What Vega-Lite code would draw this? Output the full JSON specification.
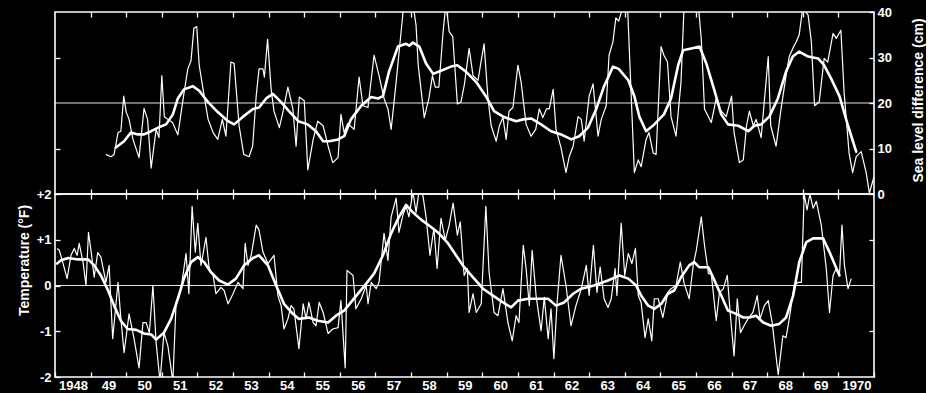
{
  "$schema": "https://vega.github.io/schema/vega-lite/v6.json",
  "background": "black",
  "padding": {"left": 16, "top": 5, "right": 0, "bottom": 0},
  "spacing": 0,
  "bounds": "flush",
  "config": {
    "view": {"stroke": "white", "strokeWidth": 1.6},
    "axis": {
      "labelColor": "white", "tickColor": "white", "titleColor": "white",
      "labelFont": "Liberation Sans", "titleFont": "Liberation Sans",
      "labelFontSize": 13, "labelFontWeight": "bold",
      "titleFontSize": 14, "titleFontWeight": "bold",
      "grid": false, "domain": false, "tickSize": 5, "offset": -5, "tickWidth": 1.3,
      "labelPadding": 3
    }
  },
  "datasets": {
    "top_raw": [
      {"year":1949.43,"value":8.7},{"year":1949.57,"value":8.2},{"year":1949.66,"value":8.7},{"year":1949.77,"value":13.5},{"year":1949.85,"value":13.8},{"year":1949.93,"value":21.5},{"year":1950.0,"value":18},{"year":1950.08,"value":16.4},{"year":1950.19,"value":12},{"year":1950.36,"value":8},{"year":1950.5,"value":18.8},{"year":1950.6,"value":16.4},{"year":1950.7,"value":5.7},{"year":1950.84,"value":14.2},{"year":1950.92,"value":12.4},{"year":1951.0,"value":26},{"year":1951.07,"value":17},{"year":1951.17,"value":16.4},{"year":1951.3,"value":15.7},{"year":1951.45,"value":13},{"year":1951.6,"value":21},{"year":1951.73,"value":27.5},{"year":1951.82,"value":29.3},{"year":1951.9,"value":36.4},{"year":1951.98,"value":36.8},{"year":1952.05,"value":28.3},{"year":1952.2,"value":21},{"year":1952.3,"value":16.4},{"year":1952.44,"value":13.5},{"year":1952.57,"value":12},{"year":1952.7,"value":16.4},{"year":1952.8,"value":12.7},{"year":1952.94,"value":29},{"year":1953.03,"value":28.7},{"year":1953.17,"value":15},{"year":1953.3,"value":8.7},{"year":1953.45,"value":8.2},{"year":1953.55,"value":10.5},{"year":1953.65,"value":21.5},{"year":1953.73,"value":27.5},{"year":1953.84,"value":27.5},{"year":1953.88,"value":25.7},{"year":1953.97,"value":34},{"year":1954.07,"value":23},{"year":1954.15,"value":18.2},{"year":1954.3,"value":14.6},{"year":1954.4,"value":18},{"year":1954.54,"value":23.5},{"year":1954.68,"value":18.7},{"year":1954.77,"value":10.5},{"year":1954.86,"value":21.3},{"year":1955.0,"value":20.5},{"year":1955.1,"value":5.3},{"year":1955.25,"value":12},{"year":1955.38,"value":16},{"year":1955.53,"value":15},{"year":1955.67,"value":10.5},{"year":1955.8,"value":6.9},{"year":1955.95,"value":8},{"year":1956.03,"value":17.5},{"year":1956.12,"value":13.5},{"year":1956.22,"value":15.5},{"year":1956.4,"value":14.2},{"year":1956.54,"value":25.7},{"year":1956.65,"value":19.4},{"year":1956.79,"value":19},{"year":1956.96,"value":30.5},{"year":1957.1,"value":26},{"year":1957.24,"value":21},{"year":1957.35,"value":18.7},{"year":1957.44,"value":14.2},{"year":1957.58,"value":24.6},{"year":1957.72,"value":35.7},{"year":1957.8,"value":42},{"year":1958.05,"value":42},{"year":1958.14,"value":37},{"year":1958.2,"value":28.3},{"year":1958.37,"value":16.8},{"year":1958.5,"value":21},{"year":1958.6,"value":26},{"year":1958.68,"value":23.5},{"year":1958.78,"value":23.5},{"year":1958.9,"value":35.7},{"year":1958.98,"value":42},{"year":1959.07,"value":35.7},{"year":1959.17,"value":34.6},{"year":1959.3,"value":19.8},{"year":1959.4,"value":20.2},{"year":1959.5,"value":24.2},{"year":1959.63,"value":32},{"year":1959.74,"value":26},{"year":1959.88,"value":25},{"year":1959.97,"value":29.3},{"year":1960.05,"value":33},{"year":1960.16,"value":21},{"year":1960.25,"value":15},{"year":1960.39,"value":11.6},{"year":1960.48,"value":15},{"year":1960.58,"value":16.8},{"year":1960.67,"value":12},{"year":1960.75,"value":18.2},{"year":1960.86,"value":19},{"year":1961.0,"value":28.3},{"year":1961.09,"value":24.6},{"year":1961.23,"value":15.3},{"year":1961.37,"value":12.7},{"year":1961.5,"value":14.2},{"year":1961.6,"value":18.7},{"year":1961.7,"value":16.8},{"year":1961.8,"value":18.7},{"year":1961.88,"value":18.7},{"year":1961.99,"value":23},{"year":1962.07,"value":14.2},{"year":1962.21,"value":10.2},{"year":1962.35,"value":4.7},{"year":1962.44,"value":8.2},{"year":1962.55,"value":10.5},{"year":1962.69,"value":17},{"year":1962.78,"value":16.4},{"year":1962.86,"value":11.6},{"year":1963.0,"value":21.5},{"year":1963.11,"value":24.2},{"year":1963.25,"value":12.7},{"year":1963.34,"value":16.4},{"year":1963.48,"value":19.4},{"year":1963.56,"value":30.5},{"year":1963.67,"value":33.5},{"year":1963.75,"value":38.7},{"year":1963.83,"value":38},{"year":1963.98,"value":42},{"year":1964.08,"value":41},{"year":1964.27,"value":4.7},{"year":1964.38,"value":7.5},{"year":1964.46,"value":6},{"year":1964.6,"value":12},{"year":1964.68,"value":13.5},{"year":1964.8,"value":9},{"year":1964.88,"value":8.7},{"year":1965.02,"value":32.4},{"year":1965.1,"value":30.5},{"year":1965.2,"value":29},{"year":1965.3,"value":17},{"year":1965.44,"value":12.7},{"year":1965.58,"value":24.6},{"year":1965.67,"value":42},{"year":1966.06,"value":42},{"year":1966.15,"value":34},{"year":1966.24,"value":18.7},{"year":1966.43,"value":15.7},{"year":1966.57,"value":21},{"year":1966.66,"value":18.7},{"year":1966.85,"value":17},{"year":1967.0,"value":21.5},{"year":1967.07,"value":13.5},{"year":1967.22,"value":6.9},{"year":1967.33,"value":7.5},{"year":1967.42,"value":15},{"year":1967.5,"value":18.2},{"year":1967.61,"value":15},{"year":1967.69,"value":16.4},{"year":1967.83,"value":12.4},{"year":1968.03,"value":30.2},{"year":1968.1,"value":15},{"year":1968.25,"value":10.5},{"year":1968.39,"value":18.7},{"year":1968.53,"value":26},{"year":1968.62,"value":30.2},{"year":1968.72,"value":32},{"year":1968.82,"value":33.5},{"year":1968.9,"value":35},{"year":1969.0,"value":41},{"year":1969.15,"value":39.3},{"year":1969.24,"value":33.5},{"year":1969.33,"value":19.4},{"year":1969.46,"value":20.2},{"year":1969.6,"value":29.8},{"year":1969.7,"value":29},{"year":1969.85,"value":35.3},{"year":1969.94,"value":34.2},{"year":1970.07,"value":36},{"year":1970.16,"value":22.4},{"year":1970.3,"value":9},{"year":1970.4,"value":4.7},{"year":1970.5,"value":8.2},{"year":1970.64,"value":9.3},{"year":1970.78,"value":4.7},{"year":1970.87,"value":0.2},{"year":1971.0,"value":3.8}
    ],
    "top_smooth": [
      {"year":1949.71,"value":10.2},{"year":1949.94,"value":11.6},{"year":1950.13,"value":13.5},{"year":1950.33,"value":13.1},{"year":1950.5,"value":13.1},{"year":1950.7,"value":13.8},{"year":1950.9,"value":14.6},{"year":1951.12,"value":15.3},{"year":1951.31,"value":17.5},{"year":1951.45,"value":21},{"year":1951.62,"value":23},{"year":1951.87,"value":23.7},{"year":1952.05,"value":22.7},{"year":1952.3,"value":20.2},{"year":1952.57,"value":18},{"year":1952.86,"value":16},{"year":1953.03,"value":15.3},{"year":1953.28,"value":17},{"year":1953.56,"value":18.7},{"year":1953.73,"value":19},{"year":1953.93,"value":21},{"year":1954.12,"value":22},{"year":1954.35,"value":20.2},{"year":1954.57,"value":18.2},{"year":1954.83,"value":16},{"year":1955.1,"value":15.3},{"year":1955.33,"value":13.8},{"year":1955.53,"value":11.6},{"year":1955.7,"value":11.6},{"year":1955.95,"value":12},{"year":1956.12,"value":12.7},{"year":1956.31,"value":16.4},{"year":1956.6,"value":19.4},{"year":1956.88,"value":21.3},{"year":1957.07,"value":21},{"year":1957.21,"value":21.5},{"year":1957.38,"value":26.9},{"year":1957.63,"value":32.4},{"year":1957.86,"value":33},{"year":1957.95,"value":32.6},{"year":1958.05,"value":33.3},{"year":1958.23,"value":32.4},{"year":1958.42,"value":28.7},{"year":1958.62,"value":26.4},{"year":1958.84,"value":27.1},{"year":1959.12,"value":28},{"year":1959.3,"value":28.3},{"year":1959.54,"value":26.9},{"year":1959.83,"value":24.6},{"year":1960.1,"value":21.5},{"year":1960.33,"value":18.2},{"year":1960.61,"value":16.9},{"year":1960.95,"value":16},{"year":1961.15,"value":16.4},{"year":1961.37,"value":16.6},{"year":1961.65,"value":15.3},{"year":1961.93,"value":13.8},{"year":1962.21,"value":13.1},{"year":1962.5,"value":12},{"year":1962.72,"value":12.7},{"year":1962.97,"value":14.6},{"year":1963.2,"value":18.7},{"year":1963.42,"value":23.7},{"year":1963.67,"value":28},{"year":1963.83,"value":27.5},{"year":1964.1,"value":25},{"year":1964.27,"value":21.5},{"year":1964.41,"value":17},{"year":1964.6,"value":13.8},{"year":1964.83,"value":15.3},{"year":1965.1,"value":17.5},{"year":1965.3,"value":21},{"year":1965.5,"value":28.3},{"year":1965.64,"value":31.6},{"year":1965.87,"value":32},{"year":1966.1,"value":32.4},{"year":1966.29,"value":28.7},{"year":1966.52,"value":22.7},{"year":1966.71,"value":17.5},{"year":1966.9,"value":15.3},{"year":1967.19,"value":15},{"year":1967.47,"value":13.8},{"year":1967.64,"value":15},{"year":1967.83,"value":15.3},{"year":1968.06,"value":17},{"year":1968.3,"value":21},{"year":1968.53,"value":26.9},{"year":1968.72,"value":30.2},{"year":1968.9,"value":31.3},{"year":1969.15,"value":30.2},{"year":1969.43,"value":29.8},{"year":1969.6,"value":28.3},{"year":1969.8,"value":25.3},{"year":1970.03,"value":21.5},{"year":1970.27,"value":15},{"year":1970.5,"value":9.3}
    ],
    "bottom_raw": [
      {"year":1948.06,"value":0.81},{"year":1948.12,"value":0.77},{"year":1948.22,"value":0.5},{"year":1948.34,"value":0.15},{"year":1948.45,"value":0.66},{"year":1948.54,"value":0.81},{"year":1948.62,"value":0.66},{"year":1948.68,"value":0.92},{"year":1948.79,"value":0.5},{"year":1948.87,"value":0},{"year":1948.94,"value":1.16},{"year":1949.01,"value":0.77},{"year":1949.1,"value":0.18},{"year":1949.2,"value":0.72},{"year":1949.29,"value":0.62},{"year":1949.43,"value":0.07},{"year":1949.52,"value":0.44},{"year":1949.62,"value":-1.16},{"year":1949.77,"value":0.07},{"year":1949.85,"value":-0.73},{"year":1949.94,"value":-1.47},{"year":1950.08,"value":-0.62},{"year":1950.22,"value":-1.16},{"year":1950.36,"value":-1.8},{"year":1950.47,"value":-0.81},{"year":1950.56,"value":-0.81},{"year":1950.65,"value":-1.03},{"year":1950.75,"value":0},{"year":1950.84,"value":-1.25},{"year":1950.95,"value":-2.1},{"year":1951.06,"value":-1.03},{"year":1951.17,"value":-1.32},{"year":1951.31,"value":-2.1},{"year":1951.4,"value":-0.37},{"year":1951.54,"value":-0.07},{"year":1951.68,"value":0.7},{"year":1951.76,"value":-0.18},{"year":1951.85,"value":1.73},{"year":1951.94,"value":0.73},{"year":1952.01,"value":1.36},{"year":1952.1,"value":0.44},{"year":1952.24,"value":1.05},{"year":1952.33,"value":0.37},{"year":1952.44,"value":0.22},{"year":1952.52,"value":-0.18},{"year":1952.66,"value":-0.04},{"year":1952.75,"value":-0.11},{"year":1952.86,"value":-0.4},{"year":1953.0,"value":-0.18},{"year":1953.14,"value":0.07},{"year":1953.28,"value":-0.07},{"year":1953.34,"value":0.92},{"year":1953.42,"value":0.44},{"year":1953.51,"value":0.66},{"year":1953.65,"value":1.32},{"year":1953.73,"value":1.21},{"year":1953.84,"value":0.73},{"year":1953.98,"value":0.48},{"year":1954.15,"value":0.66},{"year":1954.26,"value":-0.22},{"year":1954.35,"value":-0.44},{"year":1954.43,"value":-0.95},{"year":1954.54,"value":-0.73},{"year":1954.63,"value":-0.44},{"year":1954.71,"value":-0.51},{"year":1954.85,"value":-1.38},{"year":1954.97,"value":-0.4},{"year":1955.05,"value":-0.73},{"year":1955.13,"value":-0.37},{"year":1955.25,"value":-0.81},{"year":1955.33,"value":-0.88},{"year":1955.42,"value":-0.37},{"year":1955.53,"value":-0.59},{"year":1955.67,"value":-1.05},{"year":1955.8,"value":-0.95},{"year":1955.95,"value":-0.92},{"year":1956.03,"value":-0.33},{"year":1956.15,"value":-1.8},{"year":1956.2,"value":0.33},{"year":1956.37,"value":0.22},{"year":1956.45,"value":-0.51},{"year":1956.6,"value":-0.29},{"year":1956.74,"value":0},{"year":1956.79,"value":-0.4},{"year":1956.88,"value":0.07},{"year":1957.02,"value":-0.07},{"year":1957.1,"value":0.07},{"year":1957.24,"value":1.14},{"year":1957.35,"value":0.55},{"year":1957.44,"value":1.5},{"year":1957.58,"value":1.91},{"year":1957.66,"value":1.16},{"year":1957.77,"value":1.54},{"year":1957.86,"value":1.73},{"year":1957.94,"value":1.5},{"year":1958.05,"value":2.05},{"year":1958.14,"value":1.6},{"year":1958.22,"value":2.05},{"year":1958.33,"value":1.98},{"year":1958.42,"value":1.5},{"year":1958.53,"value":0.66},{"year":1958.64,"value":1.25},{"year":1958.73,"value":0.37},{"year":1958.84,"value":1.47},{"year":1958.96,"value":0.99},{"year":1959.07,"value":1.32},{"year":1959.18,"value":1.8},{"year":1959.3,"value":1.1},{"year":1959.38,"value":1.39},{"year":1959.49,"value":0.22},{"year":1959.58,"value":0.37},{"year":1959.63,"value":-0.59},{"year":1959.74,"value":-0.18},{"year":1959.83,"value":-0.59},{"year":1959.97,"value":-0.4},{"year":1960.1,"value":1.73},{"year":1960.19,"value":0.29},{"year":1960.33,"value":-0.59},{"year":1960.44,"value":-0.66},{"year":1960.58,"value":-0.07},{"year":1960.72,"value":-0.81},{"year":1960.84,"value":-1.21},{"year":1960.95,"value":-0.66},{"year":1961.03,"value":-0.81},{"year":1961.15,"value":0.88},{"year":1961.23,"value":0.37},{"year":1961.32,"value":-0.44},{"year":1961.4,"value":0.77},{"year":1961.51,"value":-0.22},{"year":1961.65,"value":-0.99},{"year":1961.74,"value":-0.26},{"year":1961.85,"value":-1.16},{"year":1961.93,"value":-0.51},{"year":1962.01,"value":-1.6},{"year":1962.1,"value":-0.37},{"year":1962.21,"value":0.66},{"year":1962.35,"value":0},{"year":1962.49,"value":-0.88},{"year":1962.63,"value":-0.44},{"year":1962.78,"value":-0.07},{"year":1962.92,"value":0.44},{"year":1963.0,"value":-0.22},{"year":1963.12,"value":0.88},{"year":1963.22,"value":-0.15},{"year":1963.31,"value":0.4},{"year":1963.42,"value":-0.29},{"year":1963.53,"value":-0.48},{"year":1963.62,"value":-0.29},{"year":1963.73,"value":0.37},{"year":1963.78,"value":-0.22},{"year":1963.9,"value":1.36},{"year":1964.0,"value":0.22},{"year":1964.1,"value":0.7},{"year":1964.2,"value":0.48},{"year":1964.3,"value":0.81},{"year":1964.38,"value":-0.22},{"year":1964.46,"value":-0.37},{"year":1964.57,"value":-1.14},{"year":1964.66,"value":-0.73},{"year":1964.76,"value":-1.21},{"year":1964.83,"value":-0.29},{"year":1964.94,"value":-0.29},{"year":1965.07,"value":-0.7},{"year":1965.21,"value":-0.15},{"year":1965.3,"value":-0.07},{"year":1965.44,"value":0},{"year":1965.56,"value":0.51},{"year":1965.67,"value":0.04},{"year":1965.81,"value":-0.29},{"year":1965.93,"value":0.48},{"year":1966.01,"value":0.77},{"year":1966.15,"value":1.5},{"year":1966.24,"value":0.88},{"year":1966.35,"value":0.26},{"year":1966.43,"value":0.26},{"year":1966.57,"value":-0.77},{"year":1966.66,"value":-0.15},{"year":1966.77,"value":-0.07},{"year":1966.88,"value":0.22},{"year":1966.96,"value":-0.59},{"year":1967.07,"value":-1.54},{"year":1967.16,"value":-0.29},{"year":1967.25,"value":-1.03},{"year":1967.35,"value":-0.88},{"year":1967.46,"value":-0.73},{"year":1967.6,"value":-0.59},{"year":1967.72,"value":-0.22},{"year":1967.8,"value":-0.73},{"year":1967.92,"value":-0.44},{"year":1968.03,"value":-0.33},{"year":1968.14,"value":-0.81},{"year":1968.31,"value":-1.95},{"year":1968.44,"value":-1.1},{"year":1968.53,"value":-1.14},{"year":1968.62,"value":-0.73},{"year":1968.76,"value":0},{"year":1968.87,"value":0.07},{"year":1968.96,"value":0.07},{"year":1969.04,"value":2.0},{"year":1969.12,"value":1.65},{"year":1969.2,"value":2.0},{"year":1969.29,"value":1.69},{"year":1969.38,"value":1.84},{"year":1969.52,"value":1.32},{"year":1969.66,"value":0.37},{"year":1969.75,"value":-0.59},{"year":1969.85,"value":0.22},{"year":1969.94,"value":0.37},{"year":1970.03,"value":0.22},{"year":1970.1,"value":1.32},{"year":1970.17,"value":0.44},{"year":1970.27,"value":-0.07},{"year":1970.36,"value":0.15}
    ],
    "bottom_smooth": [
      {"year":1948.06,"value":0.48},{"year":1948.17,"value":0.55},{"year":1948.37,"value":0.6},{"year":1948.65,"value":0.57},{"year":1948.93,"value":0.57},{"year":1949.1,"value":0.44},{"year":1949.29,"value":0.22},{"year":1949.49,"value":-0.11},{"year":1949.66,"value":-0.44},{"year":1949.85,"value":-0.77},{"year":1950.04,"value":-0.95},{"year":1950.28,"value":-0.97},{"year":1950.5,"value":-1.05},{"year":1950.7,"value":-1.07},{"year":1950.84,"value":-1.18},{"year":1951.06,"value":-1.03},{"year":1951.26,"value":-0.73},{"year":1951.45,"value":-0.29},{"year":1951.62,"value":0.15},{"year":1951.82,"value":0.51},{"year":1952.01,"value":0.62},{"year":1952.19,"value":0.51},{"year":1952.38,"value":0.29},{"year":1952.61,"value":0.11},{"year":1952.86,"value":0.02},{"year":1953.08,"value":0.15},{"year":1953.31,"value":0.44},{"year":1953.56,"value":0.6},{"year":1953.73,"value":0.66},{"year":1953.98,"value":0.44},{"year":1954.21,"value":0},{"year":1954.43,"value":-0.4},{"year":1954.68,"value":-0.62},{"year":1954.85,"value":-0.73},{"year":1955.13,"value":-0.7},{"year":1955.38,"value":-0.77},{"year":1955.67,"value":-0.81},{"year":1955.89,"value":-0.66},{"year":1956.12,"value":-0.55},{"year":1956.4,"value":-0.28},{"year":1956.74,"value":0.04},{"year":1956.96,"value":0.26},{"year":1957.21,"value":0.66},{"year":1957.44,"value":1.14},{"year":1957.66,"value":1.5},{"year":1957.86,"value":1.76},{"year":1958.05,"value":1.6},{"year":1958.28,"value":1.44},{"year":1958.56,"value":1.28},{"year":1958.78,"value":1.14},{"year":1959.04,"value":0.92},{"year":1959.26,"value":0.66},{"year":1959.49,"value":0.4},{"year":1959.74,"value":0.18},{"year":1960.02,"value":-0.07},{"year":1960.3,"value":-0.22},{"year":1960.58,"value":-0.37},{"year":1960.81,"value":-0.48},{"year":1961.0,"value":-0.33},{"year":1961.29,"value":-0.29},{"year":1961.57,"value":-0.29},{"year":1961.85,"value":-0.29},{"year":1962.07,"value":-0.44},{"year":1962.3,"value":-0.37},{"year":1962.55,"value":-0.18},{"year":1962.78,"value":-0.07},{"year":1963.14,"value":0},{"year":1963.53,"value":0.11},{"year":1963.85,"value":0.22},{"year":1964.1,"value":0.15},{"year":1964.32,"value":0},{"year":1964.46,"value":-0.22},{"year":1964.66,"value":-0.44},{"year":1964.83,"value":-0.51},{"year":1965.03,"value":-0.4},{"year":1965.21,"value":-0.18},{"year":1965.39,"value":-0.11},{"year":1965.58,"value":0.18},{"year":1965.81,"value":0.44},{"year":1965.95,"value":0.51},{"year":1966.09,"value":0.4},{"year":1966.35,"value":0.4},{"year":1966.52,"value":0.11},{"year":1966.71,"value":-0.22},{"year":1966.9,"value":-0.55},{"year":1967.13,"value":-0.62},{"year":1967.33,"value":-0.7},{"year":1967.49,"value":-0.7},{"year":1967.69,"value":-0.66},{"year":1967.89,"value":-0.81},{"year":1968.11,"value":-0.88},{"year":1968.34,"value":-0.84},{"year":1968.53,"value":-0.7},{"year":1968.73,"value":-0.22},{"year":1968.9,"value":0.51},{"year":1969.1,"value":0.95},{"year":1969.29,"value":1.03},{"year":1969.57,"value":1.03},{"year":1969.75,"value":0.73},{"year":1970.03,"value":0.22}
    ]
  },
  "vconcat": [
    {
      "width": 819,
      "height": 182,
      "layer": [
        {
          "data": {"values": [{}]},
          "mark": {"type": "rule", "color": "white", "strokeWidth": 1, "opacity": 0.9},
          "encoding": {"y": {"datum": 20, "type": "quantitative", "axis": null}}
        },
        {
          "data": {"name": "top_raw"},
          "mark": {"type": "line", "color": "white", "strokeWidth": 1.2, "clip": true, "strokeJoin": "round"},
          "encoding": {
            "x": {"field": "year", "type": "quantitative", "scale": {"domain": [1948, 1971], "nice": false, "zero": false},
                  "axis": {"orient": "bottom", "labels": false, "title": null, "values": [1949,1950,1951,1952,1953,1954,1955,1956,1957,1958,1959,1960,1961,1962,1963,1964,1965,1966,1967,1968,1969,1970]}},
            "y": {"field": "value", "type": "quantitative", "scale": {"domain": [0, 40], "nice": false, "zero": false},
                  "axis": {"orient": "left", "labels": false, "title": null, "values": [10, 30]}}
          }
        },
        {
          "data": {"name": "top_smooth"},
          "mark": {"type": "line", "color": "white", "strokeWidth": 2.6, "clip": true, "strokeJoin": "round", "strokeCap": "round"},
          "encoding": {
            "x": {"field": "year", "type": "quantitative",
                  "axis": {"orient": "top", "labels": false, "title": null, "values": [1949,1950,1951,1952,1953,1954,1955,1956,1957,1958,1959,1960,1961,1962,1963,1964,1965,1966,1967,1968,1969,1970]}},
            "y": {"field": "value", "type": "quantitative",
                  "axis": {"orient": "right", "values": [0, 10, 20, 30, 40], "title": "Sea level difference (cm)",
                           "titleAngle": 270, "titleX": 49, "titleY": 88, "titleAlign": "center", "titleBaseline": "middle", "labelPadding": 3}}
          }
        }
      ],
      "resolve": {"axis": {"x": "independent", "y": "independent"}}
    },
    {
      "width": 819,
      "height": 183,
      "layer": [
        {
          "data": {"values": [{}]},
          "mark": {"type": "rule", "color": "white", "strokeWidth": 1, "opacity": 0.9},
          "encoding": {"y": {"datum": 0, "type": "quantitative", "axis": null}}
        },
        {
          "data": {"name": "bottom_raw"},
          "mark": {"type": "line", "color": "white", "strokeWidth": 1.2, "clip": true, "strokeJoin": "round"},
          "encoding": {
            "x": {"field": "year", "type": "quantitative", "scale": {"domain": [1948, 1971], "nice": false, "zero": false},
                  "axis": {"orient": "bottom", "title": null, "values": [1948,1949,1950,1951,1952,1953,1954,1955,1956,1957,1958,1959,1960,1961,1962,1963,1964,1965,1966,1967,1968,1969,1970,1971],
                           "labelExpr": "datum.value == 1971 ? '' : (datum.value == 1948 || datum.value == 1970 ? format(datum.value, 'd') : substring(format(datum.value, 'd'), 2, 4))",
                           "labelOffset": 18, "labelPadding": 2, "labelFlush": false, "labelOverlap": false}},
            "y": {"field": "value", "type": "quantitative", "scale": {"domain": [-2, 2], "nice": false, "zero": false},
                  "axis": {"orient": "left", "values": [-2, -1, 0, 1, 2], "title": "Temperature (°F)",
                           "labelExpr": "datum.value > 0 ? '+' + datum.value : '' + datum.value",
                           "titleAngle": 270, "titleX": -36, "titleY": 66, "titleAlign": "center", "titleBaseline": "middle", "labelPadding": 4}}
          }
        },
        {
          "data": {"name": "bottom_smooth"},
          "mark": {"type": "line", "color": "white", "strokeWidth": 2.6, "clip": true, "strokeJoin": "round", "strokeCap": "round"},
          "encoding": {
            "x": {"field": "year", "type": "quantitative",
                  "axis": {"orient": "top", "labels": false, "title": null, "values": [1949,1950,1951,1952,1953,1954,1955,1956,1957,1958,1959,1960,1961,1962,1963,1964,1965,1966,1967,1968,1969,1970]}},
            "y": {"field": "value", "type": "quantitative",
                  "axis": {"orient": "right", "labels": false, "title": null, "values": [-1, 1]}}
          }
        }
      ],
      "resolve": {"axis": {"x": "independent", "y": "independent"}}
    }
  ]
}
